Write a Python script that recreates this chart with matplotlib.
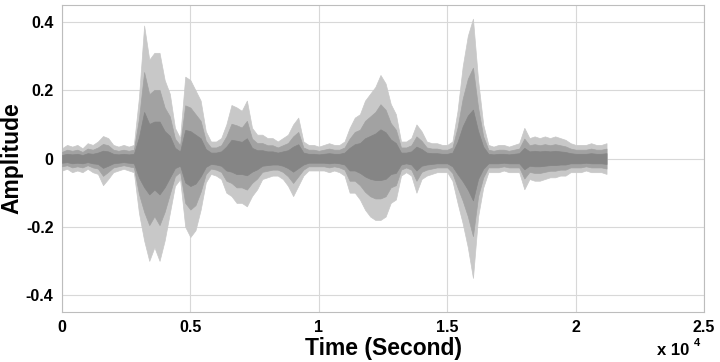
"""Speech waveform amplitude vs time, drawn as its read-off envelope."""
import matplotlib

matplotlib.use("Agg")
import matplotlib.pyplot as plt
import numpy as np

# envelope of the waveform, one knot every 200 samples (0 .. 21200)
STEP = 200
UPPER = [0.03, 0.04, 0.035, 0.04, 0.03, 0.045, 0.04, 0.05, 0.066, 0.06,
         0.04, 0.035, 0.04, 0.035, 0.04, 0.18, 0.39, 0.29, 0.31, 0.31,
         0.23, 0.19, 0.09, 0.06, 0.24, 0.23, 0.20, 0.17, 0.08, 0.05,
         0.05, 0.06, 0.10, 0.157, 0.15, 0.14, 0.17, 0.09, 0.07, 0.07,
         0.06, 0.06, 0.05, 0.06, 0.07, 0.10, 0.12, 0.05, 0.04, 0.04,
         0.035, 0.04, 0.045, 0.04, 0.04, 0.05, 0.09, 0.12, 0.13, 0.17,
         0.19, 0.21, 0.245, 0.22, 0.16, 0.13, 0.05, 0.05, 0.06, 0.10,
         0.08, 0.05, 0.045, 0.045, 0.04, 0.04, 0.05, 0.14, 0.27, 0.36,
         0.41, 0.23, 0.10, 0.04, 0.035, 0.04, 0.04, 0.035, 0.04, 0.045,
         0.09, 0.06, 0.065, 0.06, 0.065, 0.06, 0.065, 0.06, 0.055, 0.045,
         0.04, 0.04, 0.04, 0.045, 0.04, 0.04, 0.045]
LOWER = [-0.035, -0.03, -0.04, -0.035, -0.04, -0.03, -0.04, -0.045, -0.078, -0.06,
         -0.04, -0.035, -0.03, -0.035, -0.04, -0.16, -0.24, -0.30, -0.26, -0.30,
         -0.24, -0.16, -0.08, -0.06, -0.20, -0.23, -0.21, -0.15, -0.07, -0.045,
         -0.05, -0.06, -0.10, -0.11, -0.13, -0.13, -0.14, -0.11, -0.09, -0.06,
         -0.055, -0.05, -0.05, -0.06, -0.08, -0.11, -0.08, -0.05, -0.035, -0.035,
         -0.035, -0.035, -0.04, -0.035, -0.04, -0.05, -0.10, -0.10, -0.12, -0.15,
         -0.17, -0.18, -0.18, -0.17, -0.13, -0.12, -0.05, -0.04, -0.05, -0.10,
         -0.06, -0.05, -0.045, -0.04, -0.04, -0.04, -0.065, -0.13, -0.19, -0.26,
         -0.35, -0.17, -0.085, -0.04, -0.04, -0.04, -0.035, -0.04, -0.04, -0.04,
         -0.09, -0.06, -0.065, -0.065, -0.06, -0.055, -0.055, -0.05, -0.05, -0.04,
         -0.04, -0.04, -0.035, -0.04, -0.04, -0.04, -0.045]

XTICKS = [0, 5000, 10000, 15000, 20000, 25000]
XLABELS = ["0", "0.5", "1", "1.5", "2", "2.5"]
YTICKS = [-0.4, -0.2, 0, 0.2, 0.4]
YLABELS = ["-0.4", "-0.2", "0", "0.2", "0.4"]

# shades of the waveform, from the outer envelope inwards (share, colour)
SHADES = [(1.0, "#c8c8c8"), (0.65, "#a2a2a2"), (0.35, "#858585")]

plt.rcParams["font.family"] = ["Liberation Sans", "DejaVu Sans"]
plt.rcParams["font.weight"] = "bold"

t = np.arange(len(UPPER)) * STEP
up = np.array(UPPER)
lo = np.array(LOWER)

fig = plt.figure(figsize=(7.2, 3.62), dpi=100)
ax = fig.add_axes([0.086, 0.138, 0.892, 0.848])

for k, (share, col) in enumerate(SHADES):
    ax.fill_between(t, lo * share, up * share, color=col, lw=0.5,
                    ec=col, zorder=2 + k)

ax.set_xlim(0, 25000)
ax.set_ylim(-0.45, 0.45)
ax.set_xticks(XTICKS)
ax.set_xticklabels(XLABELS)
ax.set_yticks(YTICKS)
ax.set_yticklabels(YLABELS)
ax.tick_params(length=0, labelsize=11.5, pad=6)
ax.grid(True, color="#d8d8d8", lw=0.8, zorder=0)
for s in ax.spines.values():
    s.set_color("#bdbdbd")
    s.set_linewidth(0.8)

ax.set_xlabel("Time (Second)", fontsize=16.5, fontweight="bold", labelpad=1)
ax.set_ylabel("Amplitude", fontsize=16.5, fontweight="bold", labelpad=2)

fig.text(0.913, 0.02, "x 10", fontsize=12, fontweight="bold")
fig.text(0.964, 0.045, "4", fontsize=8, fontweight="bold")

fig.savefig("out.png", dpi=100)
